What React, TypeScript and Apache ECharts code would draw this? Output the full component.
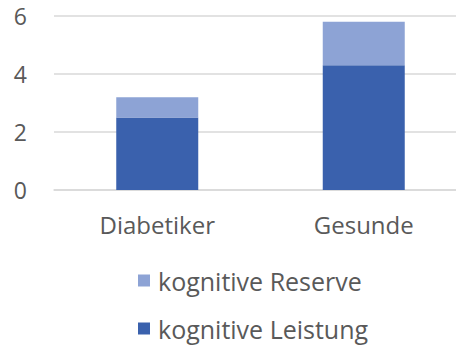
import React, { useEffect, useRef } from "react";
import * as echarts from "echarts";

const categories = ["Diabetiker", "Gesunde"];
const leistung = [2.5, 4.3];
const reserve = [0.7, 1.5];
const yTicks = { min: 0, max: 6, interval: 2 };

const DARK = "#3A61AD";
const LIGHT = "#8DA3D5";
const TEXT = "#595959";
const FONT = "'Open Sans', 'Noto Sans', sans-serif";

export default function App() {
  const ref = useRef<HTMLDivElement>(null);

  useEffect(() => {
    if (!ref.current) return;
    const chart = echarts.init(ref.current, undefined, { renderer: "svg" });
    chart.setOption({
      animation: false,
      backgroundColor: "#ffffff",
      textStyle: { fontFamily: FONT },
      // the canvas is wider than the window so the plot area runs off the right edge
      grid: { left: 54, top: 16, right: 3, height: 174, containLabel: false },
      legend: {
        orient: "vertical",
        left: 133,
        top: 263,
        itemWidth: 12,
        itemHeight: 12,
        itemGap: 23,
        icon: "rect",
        data: ["kognitive Reserve", "kognitive Leistung"],
        textStyle: { fontSize: 25, color: TEXT, fontFamily: FONT, padding: [0, 0, 0, 3] },
      },
      xAxis: {
        type: "category",
        data: categories,
        axisLine: { show: true, lineStyle: { color: "#D9D9D9", width: 1.5 } },
        axisTick: { show: false },
        axisLabel: { fontSize: 24, color: TEXT, fontFamily: FONT, margin: 22 },
      },
      yAxis: {
        type: "value",
        min: yTicks.min,
        max: yTicks.max,
        interval: yTicks.interval,
        axisLine: { show: false },
        axisTick: { show: false },
        splitLine: { lineStyle: { color: "#D9D9D9", width: 1.5 } },
        axisLabel: { fontSize: 23, color: TEXT, fontFamily: FONT, margin: 27 },
      },
      series: [
        {
          name: "kognitive Leistung",
          type: "bar",
          stack: "total",
          data: leistung,
          barWidth: 82,
          itemStyle: { color: DARK },
        },
        {
          name: "kognitive Reserve",
          type: "bar",
          stack: "total",
          data: reserve,
          barWidth: 82,
          itemStyle: { color: LIGHT },
        },
      ],
    });
    return () => chart.dispose();
  }, []);

  return (
    <div
      ref={ref}
      style={{ position: "fixed", left: 0, top: 0, width: 470, height: 351 }}
    />
  );
}
